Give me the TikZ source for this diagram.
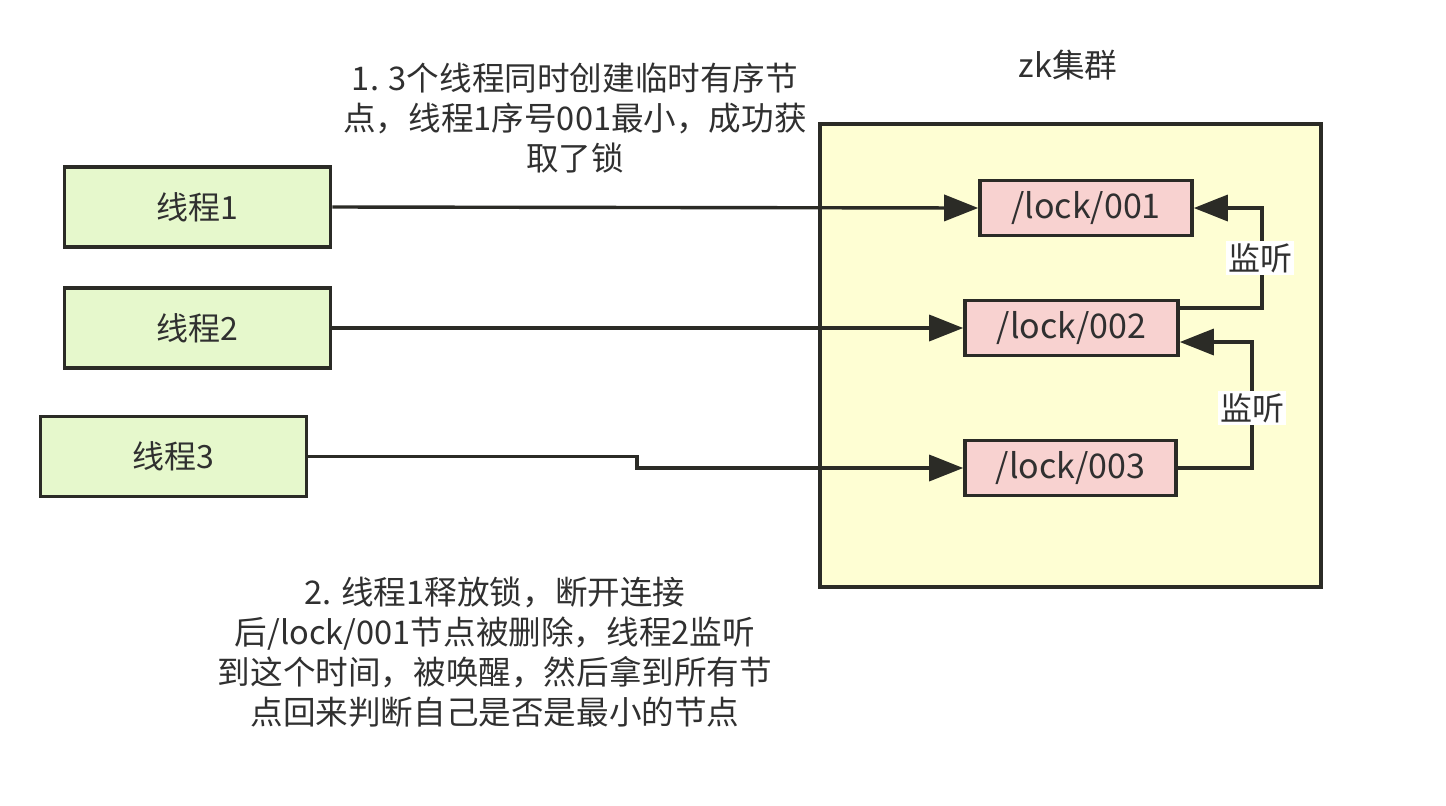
\documentclass[tikz,border=0pt]{standalone}
\usepackage{fontspec}
\setmainfont{Noto Sans CJK SC}
\usetikzlibrary{arrows.meta}
\definecolor{inkgray}{HTML}{2B2B26}
\definecolor{textgray}{HTML}{303030}
\definecolor{threadfill}{HTML}{E6F8CC}
\definecolor{lockfill}{HTML}{F8D2D0}
\definecolor{zkfill}{HTML}{FEFED3}
\begin{document}
\begin{tikzpicture}[x=0.5pt,y=-0.5pt,
    threadbox/.style={draw=inkgray,line width=1.8pt,fill=threadfill,minimum width=133pt,minimum height=40pt,inner sep=0pt,text=textgray,font=\fontsize{16}{20}\selectfont},
    lockbox/.style={draw=inkgray,line width=1.8pt,fill=lockfill,minimum height=27.5pt,inner sep=0pt,text=textgray,font=\fontsize{17}{20}\selectfont},
    note/.style={align=center,text=textgray,font=\fontsize{16.3}{20}\selectfont},
    arr/.style={draw=inkgray,line width=1.7pt,-{Triangle[length=17pt,width=13pt]}},
    watch/.style={fill=white,inner sep=1pt,text=textgray,font=\fontsize{16}{20}\selectfont}]
    \useasboundingbox (0,0) rectangle (1446,805);
    % Draw zk cluster
    \node[draw=inkgray,line width=1.8pt,fill=zkfill,minimum width=250.5pt,minimum height=231.5pt,inner sep=0pt] (zk) at (1070.5,355.5) {};
    \node[note] (zklabel) at (1068,65) {zk集群};
    % Draw threads
    \node[threadbox] (t1) at (197.5,207) {线程1};
    \node[threadbox] (t2) at (197.5,328) {线程2};
    \node[threadbox] (t3) at (173.5,456.5) {线程3};
    % Draw lock nodes
    \node[lockbox,minimum width=106pt] (l1) at (1086,208) {/lock/001};
    \node[lockbox,minimum width=106.5pt] (l2) at (1071.5,328) {/lock/002};
    \node[lockbox,minimum width=105.5pt] (l3) at (1070.5,468) {/lock/003};
    % Draw create arrows
    \draw[arr] (t1.east) -- (l1.west);
    \draw[arr] (t2.east) -- (l2.west);
    \coordinate (bend) at (637,468);
    \draw[arr] (t3.east) -| (bend) -- (l3.west);
    % Draw watch arrows
    \coordinate (w1) at (1262,208);
    \draw[arr] ([yshift=10pt]l2.east) -| (w1) -- (l1.east);
    \coordinate (w2) at (1252,468);
    \draw[arr] (l3.east) -- (w2) |- ([yshift=-7pt]l2.east);
    \node[watch] (watch1) at (1260,258) {监听};
    \node[watch] (watch2) at (1252,408) {监听};
    % Draw notes
    \node[note] (step1) at (575,118) {1. 3个线程同时创建临时有序节\\点，线程1序号001最小，成功获\\取了锁};
    \node[note] (step2) at (495,652) {2. 线程1释放锁，断开连接\\后/lock/001节点被删除，线程2监听\\到这个时间，被唤醒，然后拿到所有节\\点回来判断自己是否是最小的节点};
\end{tikzpicture}
\end{document}
